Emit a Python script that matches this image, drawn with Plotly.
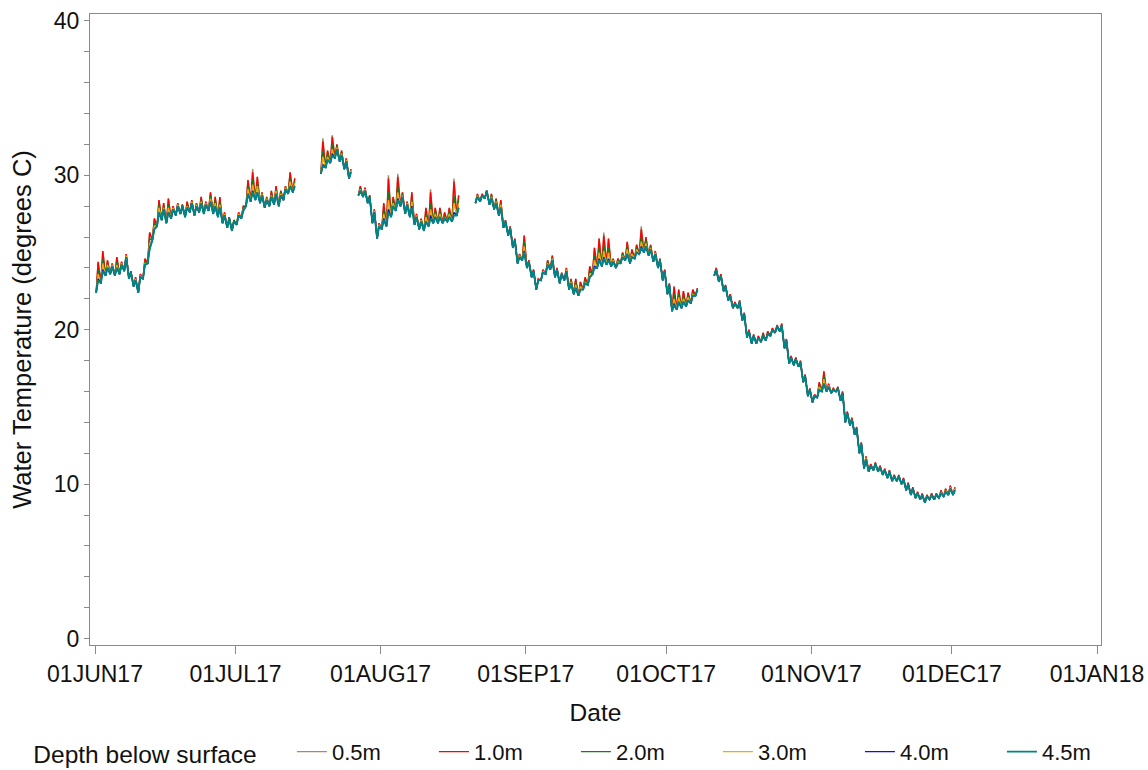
import pandas as pd
import plotly.graph_objects as go

# Daily readings, 01JUN17 .. 01DEC17 (None = logger offline)
days = pd.date_range("2017-06-01", "2017-12-01", freq="D")
N = None

# Early-morning temperature (column well mixed, all depths alike)
night = [
    22.4, 23.0, 23.5, 23.6, 23.5, 23.6, 23.8, 23.3, 22.8, 22.4,
    23.3, 24.3, 25.8, 26.7, 27.1, 26.9, 27.2, 27.4, 27.5, 27.3,
    27.6, 27.4, 27.6, 27.5, 27.7, 27.5, 27.3, 26.9, 26.6, 26.4,
    26.8, 27.2, 28.0, 28.3, 28.4, 28.2, 27.9, 28.0, 28.1, 28.0,
    28.4, 28.8, 28.9, N, N, N, N, N, 30.1, 30.5,
    30.8, 31.1, 30.9, 30.4, 29.8, N, 28.7, 28.6, 28.2, 26.9,
    25.9, 26.5, 26.7, 27.3, 27.7, 28.0, 27.5, 27.3, 26.8, 26.5,
    26.4, 26.7, 26.9, 26.9, 26.9, 27.0, 27.0, 27.4, N, N,
    N, 28.2, 28.3, 28.5, 28.1, 27.8, 27.4, 26.6, 26.1, 25.3,
    24.3, 24.5, 24.0, 23.4, 22.6, 23.2, 23.6, 23.9, 23.4, 23.0,
    23.2, 22.6, 22.3, 22.2, 22.6, 22.9, 23.6, 24.0, 24.1, 24.2,
    24.1, 24.0, 24.3, 24.5, 24.3, 24.6, 24.9, 25.0, 24.8, 24.4,
    24.0, 23.2, 22.3, 21.2, 21.3, 21.4, 21.5, 21.7, 22.2, N,
    N, N, 23.5, 23.1, 22.5, 21.9, 21.4, 21.4, 20.6, 19.5,
    19.1, 19.1, 19.2, 19.3, 19.6, 19.8, 19.9, 18.8, 17.8, 17.7,
    17.6, 16.6, 15.7, 15.3, 15.6, 16.0, 16.0, 15.9, 16.0, 15.4,
    14.0, 13.8, 13.2, 12.0, 11.0, 10.8, 10.9, 10.8, 10.6, 10.4,
    10.2, 10.2, 10.0, 9.6, 9.3, 9.1, 9.0, 8.8, 9.0, 9.0,
    9.1, 9.2, 9.3, 9.3,
]

# Afternoon temperature at each depth
aft_05m = [
    24.4, 25.1, 24.5, 24.3, 24.7, 24.4, 24.9, 23.8, 23.4, 23.6,
    24.6, 26.3, 27.2, 28.4, 28.2, 28.5, 28.0, 28.2, 28.1, 28.3,
    28.4, 28.2, 28.6, 28.3, 28.9, 28.6, 28.6, 27.6, 27.3, 27.1,
    27.6, 28.0, 29.7, 30.4, 29.9, 28.9, 28.6, 29.0, 29.3, 29.0,
    29.3, 30.2, 29.8, N, N, N, N, N, 32.4, 31.6,
    32.6, 32.0, 31.6, 31.1, 30.4, N, 29.3, 29.2, 28.7, 27.8,
    26.9, 28.2, 30.0, 28.6, 30.1, 28.9, 28.3, 28.9, 27.5, 27.2,
    27.9, 29.1, 27.9, 27.9, 27.6, 27.9, 29.8, 28.7, N, N,
    N, 28.8, 28.8, 29.0, 28.8, 28.5, 28.4, 27.1, 26.7, 25.9,
    24.9, 26.1, 24.5, 23.9, 23.3, 23.9, 24.5, 24.8, 24.0, 23.7,
    24.0, 23.3, 23.3, 23.1, 23.4, 24.1, 25.3, 25.9, 26.3, 25.9,
    24.6, 24.6, 25.0, 25.7, 25.2, 25.5, 26.7, 26.0, 25.5, 25.1,
    24.6, 23.9, 23.0, 22.8, 22.6, 22.5, 22.4, 22.6, 22.7, N,
    N, N, 24.0, 23.6, 22.9, 22.3, 21.8, 21.9, 21.1, 20.0,
    19.7, 19.6, 19.8, 19.9, 20.1, 20.3, 20.4, 19.4, 18.3, 18.2,
    18.0, 17.1, 16.2, 15.8, 16.6, 17.3, 16.5, 16.2, 16.3, 16.0,
    14.7, 14.3, 13.7, 12.7, 11.8, 11.3, 11.4, 11.2, 11.0, 10.9,
    10.6, 10.6, 10.4, 10.1, 9.8, 9.5, 9.4, 9.3, 9.4, 9.4,
    9.6, 9.7, 9.9, 9.8,
]
aft_10m = [
    24.4, 25.1, 24.5, 24.3, 24.7, 24.4, 24.9, 23.8, 23.4, 23.6,
    24.6, 26.3, 27.2, 28.4, 28.2, 28.5, 28.0, 28.2, 28.1, 28.3,
    28.4, 28.2, 28.6, 28.3, 28.9, 28.6, 28.6, 27.6, 27.3, 27.1,
    27.6, 28.0, 29.7, 30.2, 29.9, 28.9, 28.6, 29.0, 29.3, 29.0,
    29.3, 30.2, 29.8, N, N, N, N, N, 32.2, 31.6,
    32.5, 32.0, 31.6, 31.1, 30.4, N, 29.3, 29.2, 28.7, 27.8,
    26.9, 28.2, 29.8, 28.6, 29.9, 28.9, 28.3, 28.9, 27.5, 27.2,
    27.9, 28.9, 27.9, 27.9, 27.6, 27.9, 29.6, 28.7, N, N,
    N, 28.8, 28.8, 29.0, 28.8, 28.5, 28.4, 27.1, 26.7, 25.9,
    24.9, 26.1, 24.5, 23.9, 23.3, 23.9, 24.5, 24.8, 24.0, 23.7,
    24.0, 23.3, 23.3, 23.1, 23.4, 24.1, 25.3, 25.9, 26.1, 25.9,
    24.6, 24.6, 25.0, 25.7, 25.2, 25.5, 26.5, 26.0, 25.5, 25.1,
    24.6, 23.9, 23.0, 22.8, 22.6, 22.5, 22.4, 22.6, 22.7, N,
    N, N, 24.0, 23.6, 22.9, 22.3, 21.8, 21.9, 21.1, 20.0,
    19.7, 19.6, 19.8, 19.9, 20.1, 20.3, 20.4, 19.4, 18.3, 18.2,
    18.0, 17.1, 16.2, 15.8, 16.6, 17.3, 16.5, 16.2, 16.3, 16.0,
    14.7, 14.3, 13.7, 12.7, 11.8, 11.3, 11.4, 11.2, 11.0, 10.9,
    10.6, 10.6, 10.4, 10.1, 9.8, 9.5, 9.4, 9.3, 9.4, 9.4,
    9.6, 9.7, 9.9, 9.8,
]
aft_20m = [
    23.9, 24.6, 24.3, 24.2, 24.4, 24.3, 24.8, 23.8, 23.3, 23.5,
    24.4, 25.9, 26.9, 28.1, 28.0, 28.1, 27.9, 28.1, 28.1, 28.1,
    28.3, 28.1, 28.4, 28.2, 28.7, 28.4, 28.3, 27.5, 27.3, 27.1,
    27.5, 27.9, 29.3, 29.7, 29.5, 28.8, 28.5, 28.8, 29.1, 28.9,
    29.2, 29.8, 29.6, N, N, N, N, N, 31.6, 31.4,
    32.0, 31.9, 31.5, 31.0, 30.3, N, 29.2, 29.1, 28.7, 27.7,
    26.8, 27.8, 28.9, 28.4, 29.3, 28.8, 28.2, 28.5, 27.4, 27.1,
    27.5, 28.2, 27.7, 27.7, 27.4, 27.7, 28.7, 28.4, N, N,
    N, 28.7, 28.7, 29.0, 28.7, 28.4, 28.2, 27.0, 26.6, 25.8,
    24.8, 25.7, 24.4, 23.8, 23.2, 23.8, 24.4, 24.7, 23.9, 23.6,
    23.9, 23.2, 23.1, 22.9, 23.2, 23.8, 24.8, 25.3, 25.5, 25.3,
    24.5, 24.5, 24.9, 25.4, 25.0, 25.3, 26.0, 25.8, 25.4, 25.0,
    24.5, 23.8, 22.9, 22.3, 22.3, 22.2, 22.2, 22.4, 22.6, N,
    N, N, 23.9, 23.5, 22.8, 22.2, 21.7, 21.8, 21.0, 19.9,
    19.6, 19.5, 19.7, 19.8, 20.0, 20.2, 20.3, 19.3, 18.2, 18.1,
    17.9, 17.0, 16.1, 15.7, 16.4, 17.0, 16.4, 16.1, 16.2, 15.9,
    14.6, 14.2, 13.6, 12.6, 11.7, 11.2, 11.3, 11.1, 10.9, 10.8,
    10.5, 10.5, 10.3, 10.0, 9.7, 9.4, 9.3, 9.2, 9.3, 9.3,
    9.5, 9.6, 9.8, 9.7,
]
aft_30m = [
    23.6, 24.3, 24.2, 24.2, 24.2, 24.3, 24.8, 23.7, 23.3, 23.5,
    24.3, 25.6, 26.7, 27.9, 27.9, 27.9, 27.9, 28.1, 28.0, 28.0,
    28.3, 28.1, 28.3, 28.2, 28.5, 28.2, 28.1, 27.5, 27.2, 27.0,
    27.5, 27.8, 29.1, 29.4, 29.3, 28.8, 28.5, 28.7, 29.0, 28.8,
    29.2, 29.6, 29.5, N, N, N, N, N, 31.2, 31.2,
    31.7, 31.8, 31.4, 31.0, 30.3, N, 29.1, 29.1, 28.6, 27.7,
    26.8, 27.5, 28.4, 28.2, 28.9, 28.7, 28.2, 28.3, 27.4, 27.1,
    27.3, 27.8, 27.5, 27.5, 27.3, 27.5, 28.2, 28.2, N, N,
    N, 28.7, 28.7, 29.0, 28.6, 28.3, 28.1, 27.0, 26.6, 25.8,
    24.8, 25.4, 24.4, 23.8, 23.2, 23.8, 24.3, 24.6, 23.9, 23.6,
    23.9, 23.1, 22.9, 22.8, 23.1, 23.6, 24.5, 25.0, 25.1, 25.0,
    24.5, 24.4, 24.8, 25.2, 24.9, 25.2, 25.7, 25.6, 25.3, 25.0,
    24.5, 23.8, 22.9, 22.0, 22.1, 22.0, 22.1, 22.3, 22.6, N,
    N, N, 23.9, 23.5, 22.8, 22.2, 21.7, 21.8, 21.0, 19.9,
    19.6, 19.5, 19.6, 19.7, 20.0, 20.2, 20.3, 19.3, 18.2, 18.1,
    17.9, 17.0, 16.1, 15.7, 16.3, 16.8, 16.4, 16.1, 16.2, 15.9,
    14.6, 14.2, 13.6, 12.6, 11.7, 11.2, 11.3, 11.1, 10.9, 10.8,
    10.5, 10.5, 10.3, 10.0, 9.7, 9.4, 9.3, 9.2, 9.3, 9.3,
    9.5, 9.6, 9.8, 9.7,
]
aft_40m = [
    23.3, 23.9, 24.0, 24.1, 24.0, 24.2, 24.7, 23.7, 23.2, 23.4,
    24.2, 25.3, 26.5, 27.6, 27.8, 27.6, 27.8, 28.0, 28.0, 27.9,
    28.2, 28.0, 28.2, 28.1, 28.3, 28.0, 27.9, 27.4, 27.2, 27.0,
    27.4, 27.7, 28.8, 29.0, 28.9, 28.7, 28.4, 28.6, 28.8, 28.7,
    29.1, 29.3, 29.3, N, N, N, N, N, 30.7, 31.0,
    31.4, 31.7, 31.3, 30.9, 30.2, N, 29.0, 29.0, 28.6, 27.6,
    26.7, 27.2, 27.8, 28.0, 28.5, 28.6, 28.1, 28.0, 27.3, 27.0,
    27.0, 27.4, 27.3, 27.3, 27.2, 27.3, 27.6, 27.9, N, N,
    N, 28.6, 28.7, 29.0, 28.5, 28.2, 27.9, 27.0, 26.6, 25.8,
    24.7, 25.1, 24.4, 23.8, 23.2, 23.7, 24.2, 24.5, 23.9, 23.6,
    23.8, 23.0, 22.7, 22.6, 23.0, 23.4, 24.1, 24.6, 24.7, 24.6,
    24.4, 24.3, 24.7, 24.9, 24.7, 25.0, 25.4, 25.4, 25.2, 24.9,
    24.5, 23.8, 22.9, 21.7, 21.8, 21.8, 21.9, 22.2, 22.6, N,
    N, N, 23.9, 23.5, 22.8, 22.2, 21.7, 21.8, 21.0, 19.9,
    19.6, 19.5, 19.6, 19.7, 20.0, 20.2, 20.3, 19.3, 18.2, 18.1,
    17.9, 17.0, 16.1, 15.7, 16.1, 16.5, 16.3, 16.1, 16.2, 15.9,
    14.6, 14.2, 13.6, 12.6, 11.6, 11.2, 11.3, 11.1, 10.9, 10.8,
    10.5, 10.5, 10.3, 10.0, 9.7, 9.4, 9.3, 9.2, 9.3, 9.3,
    9.4, 9.5, 9.7, 9.6,
]
aft_45m = [
    23.2, 23.8, 24.0, 24.1, 24.0, 24.2, 24.7, 23.7, 23.2, 23.4,
    24.2, 25.2, 26.5, 27.6, 27.8, 27.6, 27.8, 28.0, 28.0, 27.9,
    28.2, 28.0, 28.2, 28.1, 28.3, 28.0, 27.9, 27.4, 27.2, 27.0,
    27.4, 27.7, 28.8, 28.9, 28.9, 28.7, 28.4, 28.6, 28.8, 28.7,
    29.1, 29.3, 29.3, N, N, N, N, N, 30.6, 31.0,
    31.3, 31.7, 31.3, 30.9, 30.2, N, 29.0, 29.0, 28.6, 27.6,
    26.7, 27.1, 27.6, 28.0, 28.4, 28.6, 28.1, 27.9, 27.3, 27.0,
    27.0, 27.2, 27.3, 27.3, 27.2, 27.3, 27.4, 27.9, N, N,
    N, 28.6, 28.7, 29.0, 28.5, 28.2, 27.9, 27.0, 26.6, 25.8,
    24.7, 25.0, 24.4, 23.8, 23.2, 23.7, 24.2, 24.5, 23.9, 23.6,
    23.8, 23.0, 22.7, 22.6, 23.0, 23.4, 24.0, 24.5, 24.6, 24.5,
    24.4, 24.3, 24.7, 24.9, 24.7, 25.0, 25.3, 25.4, 25.2, 24.9,
    24.5, 23.8, 22.9, 21.6, 21.8, 21.8, 21.9, 22.2, 22.6, N,
    N, N, 23.9, 23.5, 22.8, 22.2, 21.7, 21.8, 21.0, 19.9,
    19.6, 19.5, 19.6, 19.7, 20.0, 20.2, 20.3, 19.3, 18.2, 18.1,
    17.9, 17.0, 16.1, 15.7, 16.1, 16.5, 16.3, 16.1, 16.2, 15.9,
    14.6, 14.2, 13.6, 12.6, 11.6, 11.2, 11.3, 11.1, 10.9, 10.8,
    10.5, 10.5, 10.3, 10.0, 9.7, 9.4, 9.3, 9.2, 9.3, 9.3,
    9.4, 9.5, 9.7, 9.6,
]

depth_labels = ["0.5m", "1.0m", "2.0m", "3.0m", "4.0m", "4.5m"]
afternoon = [aft_05m, aft_10m, aft_20m, aft_30m, aft_40m, aft_45m]
colors = ["#A58B66", "#FF0000", "#1A7A1A", "#F5A70F", "#1010E6", "#008585"]

tick_dates = ["2017-06-01", "2017-07-01", "2017-08-01", "2017-09-01",
              "2017-10-01", "2017-11-01", "2017-12-01", "2018-01-01"]
tick_text = ["01JUN17", "01JUL17", "01AUG17", "01SEP17",
             "01OCT17", "01NOV17", "01DEC17", "01JAN18"]


def readings(aft):
    """Interleave the morning and afternoon readings of every day."""
    xs, ys = [], []
    for day, lo, hi in zip(days, night, aft):
        xs += [day + pd.Timedelta(hours=6), day + pd.Timedelta(hours=16)]
        ys += [lo, hi]
    return xs, ys


FONT = "Liberation Sans, Arial, sans-serif"
AXIS_GREY = "#8A8A8A"

fig = go.Figure()
for label, aft, col in zip(depth_labels, afternoon, colors):
    xs, ys = readings(aft)
    fig.add_trace(go.Scatter(
        x=xs, y=ys, mode="lines", name=label,
        line=dict(color=col, width=1.9 if label == "4.5m" else 1.4),
    ))

fig.update_layout(
    width=1148, height=770,
    margin=dict(l=90, r=47, t=14, b=125, autoexpand=False),
    paper_bgcolor="white", plot_bgcolor="white",
    font=dict(family=FONT, size=22, color="#111111"),
    showlegend=True,
    legend=dict(
        orientation="h",
        x=-0.058, xanchor="left",
        y=-0.136, yanchor="top",
        title=dict(text="Depth below surface&nbsp;&nbsp;&nbsp;&nbsp;",
                   side="left", font=dict(size=24.5)),
        font=dict(size=22),
        entrywidth=97,
        bgcolor="rgba(0,0,0,0)",
    ),
)

fig.update_xaxes(
    type="date",
    range=["2017-05-30 22:22", "2018-01-01 20:31"],
    tickvals=tick_dates, ticktext=tick_text,
    ticks="outside", ticklen=8, tickcolor=AXIS_GREY,
    showline=True, linecolor=AXIS_GREY, linewidth=1, mirror=True,
    showgrid=False, zeroline=False,
    tickfont=dict(size=23),
    title=dict(text="Date", font=dict(size=24.5), standoff=18),
)
fig.update_yaxes(
    range=[-0.42, 40.45],
    tickvals=[0, 10, 20, 30, 40],
    ticks="outside", ticklen=5, tickcolor=AXIS_GREY,
    minor=dict(dtick=2, ticks="outside", ticklen=5, tickcolor=AXIS_GREY),
    showline=True, linecolor=AXIS_GREY, linewidth=1, mirror=True,
    showgrid=False, zeroline=False,
    tickfont=dict(size=23),
    title=dict(text="Water Temperature (degrees C)", font=dict(size=25.5),
               standoff=14),
)

fig.write_html("out.html")
